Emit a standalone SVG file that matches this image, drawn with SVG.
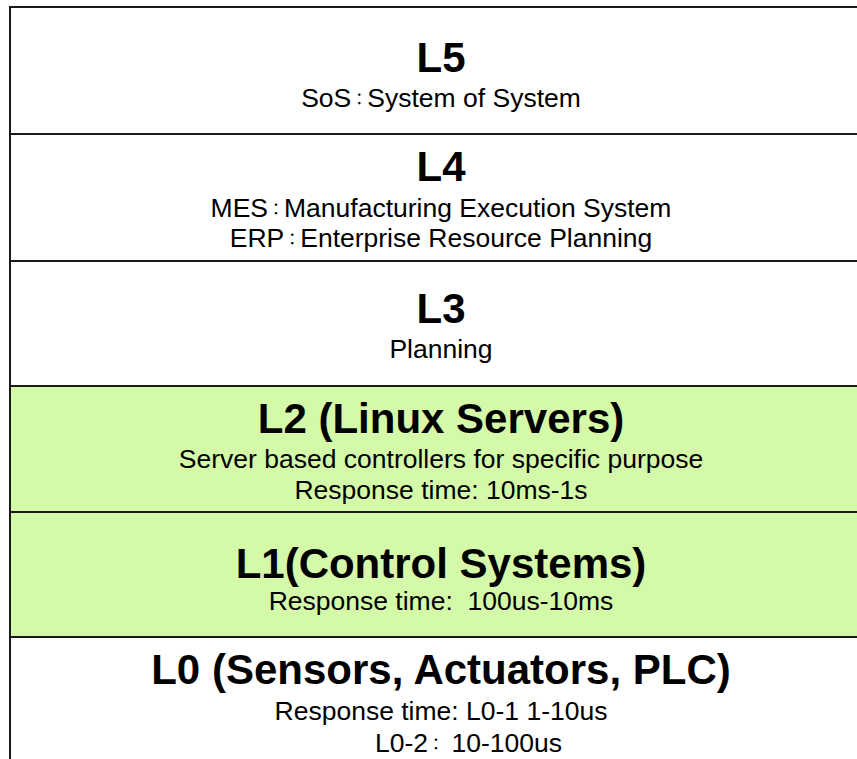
<svg xmlns="http://www.w3.org/2000/svg" width="857" height="759" viewBox="0 0 857 759">
<style>
.box{stroke:#1a1a1a;stroke-width:2;}
.w{fill:#ffffff;}
.g{fill:#d4f9a8;}
.t{font-family:"Liberation Sans",Arial,"Noto Sans CJK SC",sans-serif;font-weight:bold;font-size:42px;fill:#000;text-anchor:middle;}
.s{font-family:"Liberation Sans",Arial,"Noto Sans CJK SC",sans-serif;font-size:26.5px;fill:#000;text-anchor:middle;}
.c{font-family:"Noto Sans CJK JP","Noto Sans CJK SC",sans-serif;font-size:16px;}
</style>
<rect x="0" y="0" width="857" height="759" fill="#ffffff"/>
<g id="L5">
<rect class="box w" x="10" y="7" width="880" height="127"/>
<text class="t" x="441" y="72">L5</text>
<text class="s" x="441" y="107">SoS<tspan class="c" dy="-2">：</tspan><tspan dy="2">System of System</tspan></text>
</g>
<g id="L4">
<rect class="box w" x="10" y="134" width="880" height="127"/>
<text class="t" x="441" y="181">L4</text>
<text class="s" x="441" y="217">MES<tspan class="c" dy="-2">：</tspan><tspan dy="2">Manufacturing Execution System</tspan></text>
<text class="s" x="441" y="247">ERP<tspan class="c" dy="-2">：</tspan><tspan dy="2">Enterprise Resource Planning</tspan></text>
</g>
<g id="L3">
<rect class="box w" x="10" y="261" width="880" height="125"/>
<text class="t" x="441" y="323">L3</text>
<text class="s" x="441" y="358">Planning</text>
</g>
<g id="L2">
<rect class="box g" x="10" y="386" width="880" height="126"/>
<text class="t" x="441" y="433">L2 (Linux Servers)</text>
<text class="s" x="441" y="468">Server based controllers for specific purpose</text>
<text class="s" x="441" y="499">Response time: 10ms-1s</text>
</g>
<g id="L1">
<rect class="box g" x="10" y="512" width="880" height="125"/>
<text class="t" x="441" y="578">L1(Control Systems)</text>
<text class="s" x="441" y="610">Response time:&#160; 100us-10ms</text>
</g>
<g id="L0">
<rect class="box w" x="10" y="637" width="880" height="140"/>
<text class="t" x="441" y="684">L0 (Sensors, Actuators, PLC)</text>
<text class="s" x="441" y="720">Response time: L0-1 1-10us</text>
<text class="s" x="375" y="752" style="text-anchor:start">L0-2<tspan class="c" dy="-2">：</tspan><tspan dy="2">&#160;10-100us</tspan></text>
</g>
<g id="connectors"></g>
</svg>
